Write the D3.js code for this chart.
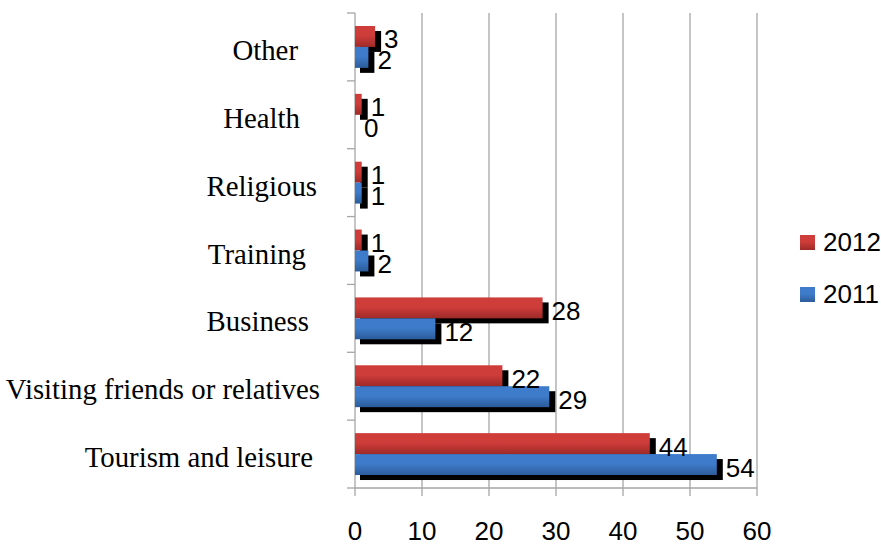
<!DOCTYPE html>
<html>
<head>
<meta charset="utf-8">
<script src="https://cdn.jsdelivr.net/npm/d3@7"></script>
<style>
  body { margin: 0; background: #fff; }
  svg { display: block; }
</style>
</head>
<body>
<svg width="881" height="545"></svg>
<script>
// categories top to bottom
var categories = ["Other", "Health", "Religious", "Training", "Business", "Visiting friends or relatives", "Tourism and leisure"];
var labelShift = [22, 20, 3, 14, 11, 0, 7];   // label ends differ in the original
var series = ["2012", "2011"];
var values2012 = [3, 1, 1, 1, 28, 22, 44];
var values2011 = [2, 0, 1, 2, 12, 29, 54];
var xTicks = [0, 10, 20, 30, 40, 50, 60];

var svg = d3.select("svg");
var defs = svg.append("defs");

function grad(id, top, bottom) {
  var g = defs.append("linearGradient").attr("id", id)
      .attr("x1", 0).attr("y1", 0).attr("x2", 0).attr("y2", 1);
  g.append("stop").attr("offset", "0%").attr("stop-color", top);
  g.append("stop").attr("offset", "45%").attr("stop-color", top);
  g.append("stop").attr("offset", "100%").attr("stop-color", bottom);
}
grad("g2012", "#cf3d3a", "#9e2a28");
grad("g2011", "#3e7ccb", "#2c5c9a");

var fills = {"2012": "url(#g2012)", "2011": "url(#g2011)"};

var x = d3.scaleLinear().domain([0, 60]).range([355, 757]);
var y = d3.scaleBand().domain(categories).range([13, 488]);
var y1 = d3.scaleBand().domain(series).range([0, y.bandwidth()]).paddingOuter(0.62);

var numFont = "'Liberation Sans Narrow', 'Arial Narrow', 'Liberation Sans', sans-serif";

// grid lines
svg.append("g").selectAll("line").data(xTicks.slice(1)).enter().append("line")
    .attr("x1", function(d) { return x(d); })
    .attr("x2", function(d) { return x(d); })
    .attr("y1", 13).attr("y2", 496)
    .attr("stroke", "#a6a6a6").attr("stroke-width", 1.3);

// y axis with ticks on band edges
var yEdges = categories.map(function(c) { return y(c); }).concat([488]);
svg.append("g").selectAll("line").data(yEdges).enter().append("line")
    .attr("x1", 347).attr("x2", 355)
    .attr("y1", function(d) { return d; }).attr("y2", function(d) { return d; })
    .attr("stroke", "#a6a6a6").attr("stroke-width", 1.3);
svg.append("line").attr("x1", 355).attr("x2", 355).attr("y1", 13).attr("y2", 496)
    .attr("stroke", "#a6a6a6").attr("stroke-width", 1.3);
svg.append("line").attr("x1", 355).attr("x2", 757).attr("y1", 488).attr("y2", 488)
    .attr("stroke", "#a6a6a6").attr("stroke-width", 1.3);

var rows = [];
categories.forEach(function(c, i) {
  rows.push({cat: c, s: "2012", v: values2012[i]});
  rows.push({cat: c, s: "2011", v: values2011[i]});
});

// shadows
svg.append("g").selectAll("rect").data(rows.filter(function(d) { return d.v > 0; })).enter().append("rect")
    .attr("x", x(0) + 5)
    .attr("y", function(d) { return y(d.cat) + y1(d.s) + 5; })
    .attr("width", function(d) { return x(d.v) - x(0) + 1; })
    .attr("height", y1.bandwidth())
    .attr("fill", "#000");

// bars
svg.append("g").selectAll("rect").data(rows).enter().append("rect")
    .attr("x", x(0))
    .attr("y", function(d) { return y(d.cat) + y1(d.s); })
    .attr("width", function(d) { return x(d.v) - x(0); })
    .attr("height", y1.bandwidth())
    .attr("fill", function(d) { return fills[d.s]; });

// value labels
svg.append("g").selectAll("text").data(rows).enter().append("text")
    .attr("x", function(d) { return x(d.v) + 9; })
    .attr("y", function(d) { return y(d.cat) + y1(d.s) + y1.bandwidth() / 2 + 12; })
    .attr("font-family", numFont)
    .attr("font-size", "26px")
    .attr("fill", "#000")
    .text(function(d) { return d.v; });

// category labels
svg.append("g").selectAll("text").data(categories).enter().append("text")
    .attr("x", function(d, i) { return 320 - labelShift[i]; })
    .attr("y", function(d) { return y(d) + y.bandwidth() / 2 + 13; })
    .attr("text-anchor", "end")
    .attr("font-family", "'Liberation Serif', 'Times New Roman', serif")
    .attr("font-size", "28.8px")
    .attr("fill", "#000")
    .text(function(d) { return d; });

// x tick labels
svg.append("g").selectAll("text").data(xTicks).enter().append("text")
    .attr("x", function(d) { return x(d); })
    .attr("y", 540)
    .attr("text-anchor", "middle")
    .attr("font-family", numFont)
    .attr("font-size", "26px")
    .attr("fill", "#000")
    .text(function(d) { return d; });

// legend
var legend = svg.append("g").selectAll("g").data(series).enter().append("g")
    .attr("transform", function(d, i) { return "translate(800," + (235 + i * 52) + ")"; });
legend.append("rect").attr("width", 15).attr("height", 15)
    .attr("fill", function(d) { return fills[d]; });
legend.append("text").attr("x", 23).attr("y", 16)
    .attr("font-family", numFont)
    .attr("font-size", "26px")
    .attr("fill", "#000")
    .text(function(d) { return d; });
</script>
</body>
</html>
